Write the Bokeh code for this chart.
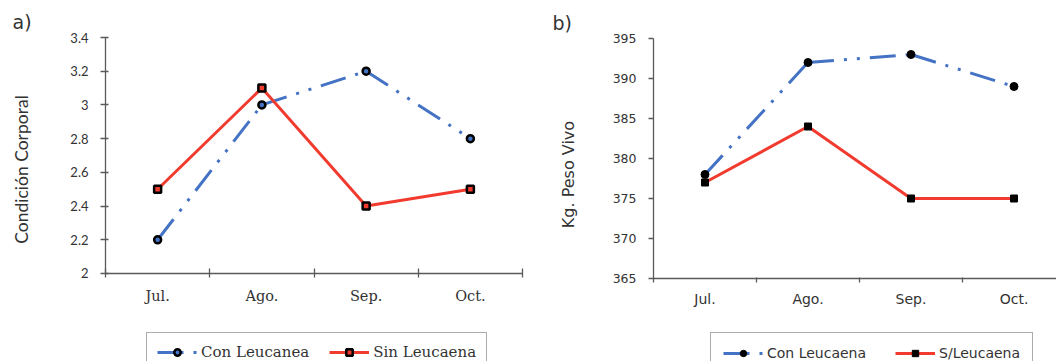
import math
from bokeh.plotting import figure
from bokeh.layouts import row
from bokeh.models import Range1d, FixedTicker, Legend, LegendItem, Label
from bokeh.embed import file_html
from bokeh.resources import INLINE

# ---------------- data ----------------
months = ["Jul.", "Ago.", "Sep.", "Oct."]
cc_con = [2.2, 3.0, 3.2, 2.8]          # Condición Corporal, Con Leucanea
cc_sin = [2.5, 3.1, 2.4, 2.5]          # Condición Corporal, Sin Leucaena
pv_con = [378, 392, 393, 389]          # Kg. Peso Vivo, Con Leucaena
pv_sin = [377, 384, 375, 375]          # Kg. Peso Vivo, S/Leucaena
cc_ticks = [2, 2.2, 2.4, 2.6, 2.8, 3, 3.2, 3.4]
cc_tick_labels = ["2", "2.2", "2.4", "2.6", "2.8", "3", "3.2", "3.4"]
pv_ticks = [365, 370, 375, 380, 385, 390, 395]
pv_tick_labels = ["365", "370", "375", "380", "385", "390", "395"]
legend_a = ["Con Leucanea", "Sin Leucaena"]
legend_b = ["Con Leucaena", "S/Leucaena"]

BLUE = "#4472C4"
RED = "#F23B2F"
AXIS = "#5a5a5a"
TXT = "#333333"
DASH = "26 10 3 10 3 10"
H = 361

xpos = [i + 0.5 for i in range(len(months))]
bounds = list(range(len(months) + 1))


def segs(xs, ys):
    return ([[xs[i], xs[i + 1]] for i in range(len(xs) - 1)],
            [[ys[i], ys[i + 1]] for i in range(len(ys) - 1)])


def screen_range(px0, v0, px_per_unit, size):
    """range so that value v0 sits at pixel px0 of a frame spanning 0..size"""
    return Range1d(v0 - px0 / px_per_unit, v0 + (size - px0) / px_per_unit)


def style_x(p, font, size, standoff, tin, tout, ymin, xmax):
    ax = p.xaxis[0]
    ax.fixed_location = ymin
    ax.bounds = (0, xmax)
    ax.ticker = FixedTicker(ticks=xpos, minor_ticks=bounds)
    ax.major_label_overrides = {x: m for x, m in zip(xpos, months)}
    ax.major_tick_line_color = None
    ax.major_tick_out = 0
    ax.major_tick_in = 0
    ax.minor_tick_line_color = AXIS
    ax.minor_tick_line_width = 1.3
    ax.minor_tick_in = tin
    ax.minor_tick_out = tout
    ax.axis_line_color = AXIS
    ax.axis_line_width = 1.3
    ax.major_label_text_font = font
    ax.major_label_text_font_size = size
    ax.major_label_text_color = TXT
    ax.major_label_standoff = standoff


def style_y(p, ticks, labels, font, size, tin, tout, standoff):
    ax = p.yaxis[0]
    ax.fixed_location = 0
    ax.bounds = (ticks[0], ticks[-1])
    ax.ticker = FixedTicker(ticks=ticks, minor_ticks=[])
    ax.major_label_overrides = {t: l for t, l in zip(ticks, labels)}
    ax.major_tick_line_color = AXIS
    ax.major_tick_line_width = 1.3
    ax.major_tick_in = tin
    ax.major_tick_out = tout
    ax.minor_tick_line_color = None
    ax.axis_line_color = AXIS
    ax.axis_line_width = 1.3
    ax.major_label_text_font = font
    ax.major_label_text_font_size = size
    ax.major_label_text_color = TXT
    ax.major_label_standoff = standoff


def make_legend(items, font, fsize, loc, spacing, padding):
    return Legend(items=items, orientation="horizontal", location=loc,
                  label_text_font=font, label_text_font_size=fsize,
                  label_text_color=TXT, glyph_width=40, glyph_height=16,
                  label_height=16, label_standoff=4, spacing=spacing,
                  padding=padding, margin=0, border_line_color=AXIS,
                  border_line_width=1.5, background_fill_color="white",
                  background_fill_alpha=1)


def base_fig(width, xr, yr):
    p = figure(width=width, height=H, output_backend="svg", toolbar_location=None,
               x_range=xr, y_range=yr, min_border=0)
    p.outline_line_color = None
    p.grid.visible = False
    return p


# ---------------- panel a ----------------
W1 = 538
p1 = base_fig(W1,
              screen_range(105, 0, 104.25, W1),
              Range1d(2 - (H - 273) / 168.57, 3.4 + 37 / 168.57))
style_x(p1, "DejaVu Serif", "14.5px", 11, 5, 4, cc_ticks[0], 4)
style_y(p1, cc_ticks, cc_tick_labels, "Lato", "13px", 3, 5, 12)

xs, ys = segs(xpos, cc_con)
b1 = p1.multi_line(xs, ys, line_color=BLUE, line_width=3, line_dash=DASH)
b1m = p1.scatter(xpos, cc_con, marker="circle", size=7, fill_color=BLUE,
                 line_color="black", line_width=2.5)
r1 = p1.line(xpos, cc_sin, line_color=RED, line_width=3)
r1m = p1.scatter(xpos, cc_sin, marker="square", size=7, fill_color=RED,
                 line_color="black", line_width=2.5)

p1.add_layout(Label(x=-0.892, y=3.489, text="a)", text_font="DejaVu Sans",
                    text_font_size="19px", text_color=TXT, text_align="left",
                    text_baseline="middle"))
p1.add_layout(Label(x=-0.806, y=2.617, text="Condición Corporal", angle=math.pi / 2,
                    text_font="Lato", text_font_size="17.5px", text_color=TXT,
                    text_align="center", text_baseline="middle"))

leg1 = make_legend([LegendItem(label=legend_a[0], renderers=[b1, b1m]),
                    LegendItem(label=legend_a[1], renderers=[r1, r1m])],
                   "DejaVu Serif", "15px", (146, H - 332 - 40), 20, 10)
p1.add_layout(leg1, "center")

# ---------------- panel b ----------------
W2 = 518
p2 = base_fig(W2,
              screen_range(115, 0, 103.0, W2),
              Range1d(365 - (H - 278) / 8.0, 395 + 38 / 8.0))
style_x(p2, "DejaVu Sans", "14px", 8, 1, 4, pv_ticks[0], 4)
style_y(p2, pv_ticks, pv_tick_labels, "DejaVu Sans", "12.5px", 0, 5, 12)

xs, ys = segs(xpos, pv_con)
b2 = p2.multi_line(xs, ys, line_color=BLUE, line_width=3, line_dash=DASH)
b2m = p2.scatter(xpos, pv_con, marker="circle", size=8, fill_color="black",
                 line_color="black", line_width=1)
r2 = p2.line(xpos, pv_sin, line_color=RED, line_width=3)
r2m = p2.scatter(xpos, pv_sin, marker="square", size=7, fill_color="black",
                 line_color="black", line_width=1)

p2.add_layout(Label(x=-0.98, y=397, text="b)", text_font="DejaVu Sans",
                    text_font_size="19px", text_color=TXT, text_align="left",
                    text_baseline="middle"))
p2.add_layout(Label(x=-0.825, y=378, text="Kg. Peso Vivo", angle=math.pi / 2,
                    text_font="DejaVu Sans", text_font_size="16px", text_color=TXT,
                    text_align="center", text_baseline="middle"))

leg2 = make_legend([LegendItem(label=legend_b[0], renderers=[b2, b2m]),
                    LegendItem(label=legend_b[1], renderers=[r2, r2m])],
                   "DejaVu Sans", "14px", (710 - 538, H - 333 - 41), 29, 12)
p2.add_layout(leg2, "center")

layout = row(p1, p2, spacing=0)
open("out.html", "w").write(file_html(layout, INLINE))
